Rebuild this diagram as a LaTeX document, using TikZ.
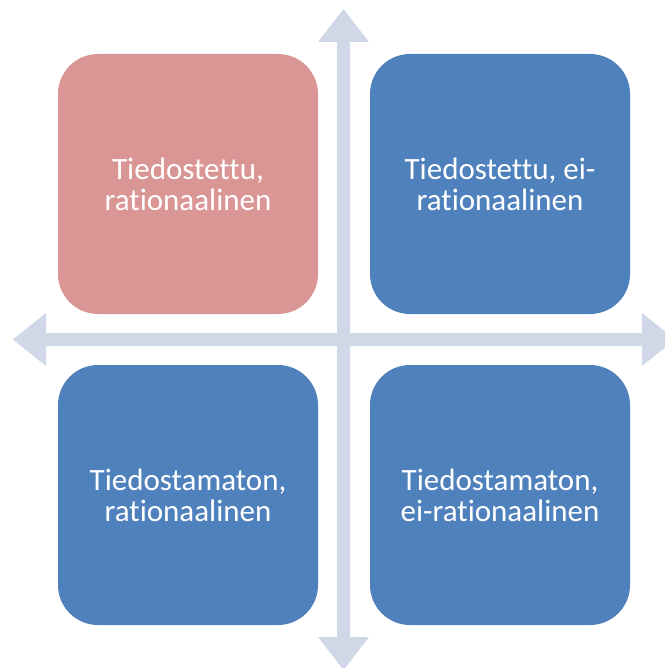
\documentclass[tikz,border=0pt]{standalone}
\usepackage{fontspec}
\setmainfont{Carlito}[RawFeature={-liga;-clig;-dlig}]
\definecolor{boxpink}{HTML}{D99694}
\definecolor{boxblue}{HTML}{4F81BD}
\definecolor{arrowgray}{HTML}{D0D8E8}
\begin{document}
\begin{tikzpicture}[x=1pt,y=-1pt,
  quad/.style={rounded corners=40pt, minimum width=260pt, minimum height=260pt,
    inner sep=0pt, text=white, align=center,
    font=\fontsize{31}{31}\selectfont},
  axis/.style={fill=arrowgray, draw=none}]
\useasboundingbox (0,0) rectangle (665,668);
\begin{scope}
\clip (0,0) rectangle (665,668);
% vertical double arrow
\fill[axis] (343.5,9) -- (369,42) -- (350,42) -- (350,637) -- (369,637) -- (343.5,670)
  -- (318,637) -- (337,637) -- (337,42) -- (318,42) -- cycle;
% horizontal double arrow
\fill[axis] (13,339.5) -- (46,313) -- (46,333) -- (642,333) -- (642,313) -- (675,339.5)
  -- (642,366) -- (642,346) -- (46,346) -- (46,366) -- cycle;
\end{scope}
\node[quad, fill=boxpink] (tl) at (188,184) {Tiedostettu,\\rationaalinen};
\node[quad, fill=boxblue] (tr) at (500,184) {Tiedostettu, ei-\\rationaalinen};
\node[quad, fill=boxblue] (bl) at (188,495) {Tiedostamaton,\\rationaalinen};
\node[quad, fill=boxblue] (br) at (500,495) {Tiedostamaton,\\ei-rationaalinen};
\end{tikzpicture}
\end{document}
